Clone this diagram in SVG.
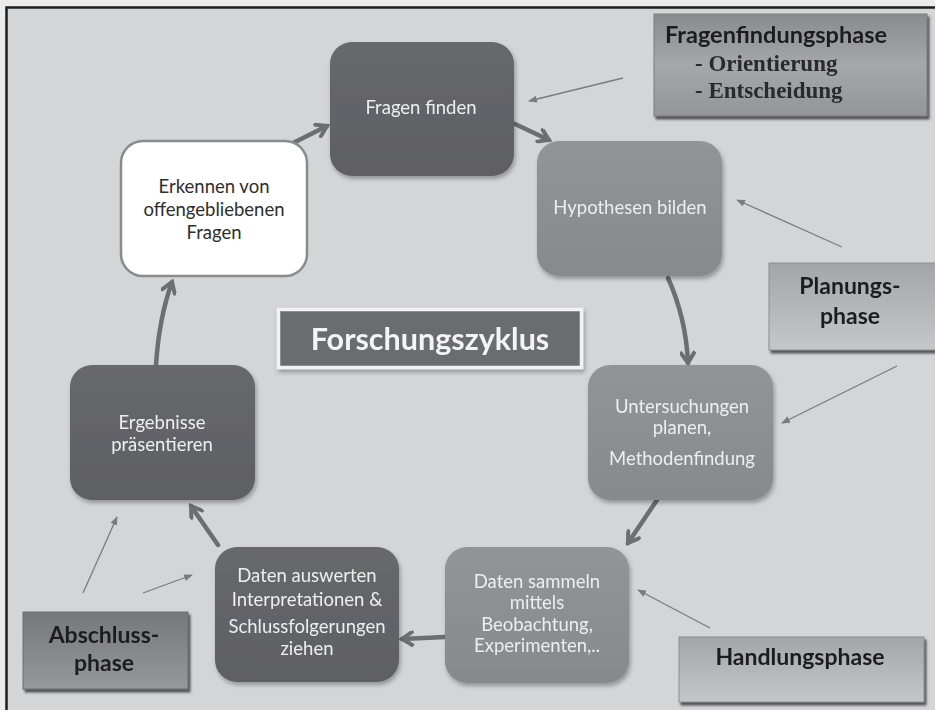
<svg xmlns="http://www.w3.org/2000/svg" width="935" height="710" viewBox="0 0 935 710">
  <defs>
    <style>
      .node-label { font-family: Lato, "Open Sans", "Liberation Sans", sans-serif; font-size: 18.5px; text-anchor: middle; }
      .light { fill: #eeeeee; }
      .dark { fill: #2e2e2e; }
      .phase-label { font-family: Lato, "Open Sans", "Liberation Sans", sans-serif; font-weight: bold; fill: #1e1e1e; text-anchor: middle; }
      .phase-head { font-family: Lato, "Open Sans", "Liberation Sans", sans-serif; font-weight: bold; fill: #1e1e1e; font-size: 23.5px; }
      .serif-label { font-family: "Liberation Serif", "DejaVu Serif", serif; font-weight: bold; fill: #2a2a2a; font-size: 23px; }
      .flow { fill: none; stroke: #6d6e72; stroke-width: 4.5; stroke-linecap: round; }
      .hint { fill: none; stroke: #7a7b7e; stroke-width: 1.3; }
    </style>
    <linearGradient id="gDark" x1="0" y1="0" x2="0" y2="1">
      <stop offset="0" stop-color="#67686c"/>
      <stop offset="1" stop-color="#5e5f63"/>
    </linearGradient>
    <linearGradient id="gMid" x1="0" y1="0" x2="0" y2="1">
      <stop offset="0" stop-color="#939498"/>
      <stop offset="1" stop-color="#88898d"/>
    </linearGradient>
    <linearGradient id="gPhaseDark" x1="0" y1="0" x2="0" y2="1">
      <stop offset="0" stop-color="#8a8b8e"/>
      <stop offset="0.5" stop-color="#a6a7aa"/>
      <stop offset="1" stop-color="#949598"/>
    </linearGradient>
    <linearGradient id="gPhaseLight" x1="0" y1="0" x2="0" y2="1">
      <stop offset="0" stop-color="#a4a5a8"/>
      <stop offset="1" stop-color="#c6c7c9"/>
    </linearGradient>
    <linearGradient id="gPhaseLow" x1="0" y1="0" x2="0" y2="1">
      <stop offset="0" stop-color="#76777b"/>
      <stop offset="1" stop-color="#97989b"/>
    </linearGradient>
    <filter id="soft" x="-10%" y="-10%" width="125%" height="130%">
      <feDropShadow dx="1.5" dy="3" stdDeviation="2" flood-color="#000" flood-opacity="0.3"/>
    </filter>
    <filter id="boxShadow" x="-5%" y="-5%" width="115%" height="120%">
      <feDropShadow dx="2" dy="3" stdDeviation="0.8" flood-color="#3c3d40" flood-opacity="0.85"/>
    </filter>
    <marker id="chevron" viewBox="0 0 16 16" refX="13" refY="8" markerWidth="16" markerHeight="16" markerUnits="userSpaceOnUse" orient="auto">
      <path d="M3,1.5 L13,8 L3,14.5" fill="none" stroke="#6d6e72" stroke-width="4" stroke-linecap="round" stroke-linejoin="miter"/>
    </marker>
    <marker id="tip" viewBox="0 0 10 8" refX="9" refY="4" markerWidth="9" markerHeight="7" markerUnits="userSpaceOnUse" orient="auto">
      <path d="M0,0 L10,4 L0,8 Z" fill="#7a7b7e"/>
    </marker>
  </defs>

  <!-- page and frame -->
  <rect x="0" y="0" width="935" height="710" fill="#ebebeb"/>
  <rect x="6" y="7" width="929" height="703" fill="#d4d5d7"/>
  <path d="M6.5,710 V7.5 H935" fill="none" stroke="#1e1e1e" stroke-width="2.5"/>

  <!-- connectors -->
  <g id="connectors">
    <path class="flow" d="M293,143 L327,126" marker-end="url(#chevron)"/>
    <path class="flow" d="M515,124 L549,140" marker-end="url(#chevron)"/>
    <path class="flow" d="M668,278 Q686,318 688,363" marker-end="url(#chevron)"/>
    <path class="flow" d="M657,500 L628,543" marker-end="url(#chevron)"/>
    <path class="flow" d="M445,637 L402,639" marker-end="url(#chevron)"/>
    <path class="flow" d="M218,545 L191,506" marker-end="url(#chevron)"/>
    <path class="flow" d="M156,365 Q159,318 172,282" marker-end="url(#chevron)"/>

    <path class="hint" d="M623,78 L529,101" marker-end="url(#tip)"/>
    <path class="hint" d="M842,247 L737,200" marker-end="url(#tip)"/>
    <path class="hint" d="M897,366 L782,423" marker-end="url(#tip)"/>
    <path class="hint" d="M710,628 L638,590" marker-end="url(#tip)"/>
    <path class="hint" d="M83,593 L117,517" marker-end="url(#tip)"/>
    <path class="hint" d="M143,593 L192,575" marker-end="url(#tip)"/>
  </g>

  <!-- cycle steps -->
  <g id="fragen-finden" filter="url(#soft)">
    <rect x="330" y="42" width="184" height="134" rx="22" fill="url(#gDark)"/>
    <text class="node-label light" x="421" y="114">Fragen finden</text>
  </g>

  <g id="hypothesen-bilden" filter="url(#soft)">
    <rect x="537" y="141" width="185" height="135" rx="22" fill="url(#gMid)"/>
    <text class="node-label light" x="630" y="214">Hypothesen bilden</text>
  </g>

  <g id="untersuchungen-planen" filter="url(#soft)">
    <rect x="588" y="365" width="185" height="135" rx="22" fill="url(#gMid)"/>
    <text class="node-label light" x="682" y="413">Untersuchungen</text>
    <text class="node-label light" x="682" y="434">planen,</text>
    <text class="node-label light" x="682" y="465">Methodenfindung</text>
  </g>

  <g id="daten-sammeln" filter="url(#soft)">
    <rect x="445" y="547" width="184" height="136" rx="22" fill="url(#gMid)"/>
    <text class="node-label light" x="537" y="588">Daten sammeln</text>
    <text class="node-label light" x="537" y="609">mittels</text>
    <text class="node-label light" x="537" y="631">Beobachtung,</text>
    <text class="node-label light" x="537" y="652">Experimenten,..</text>
  </g>

  <g id="daten-auswerten" filter="url(#soft)">
    <rect x="215" y="547" width="184" height="135" rx="22" fill="url(#gDark)"/>
    <text class="node-label light" x="307" y="582">Daten auswerten</text>
    <text class="node-label light" x="307" y="606">Interpretationen &amp;</text>
    <text class="node-label light" x="307" y="633">Schlussfolgerungen</text>
    <text class="node-label light" x="307" y="655">ziehen</text>
  </g>

  <g id="ergebnisse-praesentieren" filter="url(#soft)">
    <rect x="70" y="365" width="185" height="135" rx="22" fill="url(#gDark)"/>
    <text class="node-label light" x="162" y="429">Ergebnisse</text>
    <text class="node-label light" x="162" y="451">präsentieren</text>
  </g>

  <g id="offene-fragen">
    <rect x="121" y="141" width="186" height="135" rx="22" fill="#ffffff" stroke="#8a8b8e" stroke-width="2.5"/>
    <text class="node-label dark" x="214" y="193">Erkennen von</text>
    <text class="node-label dark" x="214" y="216">offengebliebenen</text>
    <text class="node-label dark" x="214" y="239">Fragen</text>
  </g>

  <!-- title -->
  <g id="forschungszyklus" filter="url(#soft)">
    <rect x="278.5" y="309.5" width="303" height="58" fill="#6b6c70" stroke="#f2f2f2" stroke-width="3.5"/>
    <text x="430" y="350" font-family="Lato, 'Open Sans', 'Liberation Sans', sans-serif" font-weight="bold" font-size="30.5" fill="#f4f4f4" text-anchor="middle">Forschungszyklus</text>
  </g>

  <!-- phase labels -->
  <g id="fragenfindungsphase" filter="url(#boxShadow)">
    <rect x="654" y="14" width="273" height="102" fill="url(#gPhaseDark)" stroke="#7c7d80" stroke-width="1"/>
    <text class="phase-head" x="665" y="43">Fragenfindungsphase</text>
    <text class="serif-label" x="695" y="71">- Orientierung</text>
    <text class="serif-label" x="695" y="98">- Entscheidung</text>
  </g>

  <g id="planungsphase" filter="url(#boxShadow)">
    <rect x="769" y="263" width="175" height="87" fill="url(#gPhaseLight)" stroke="#8c8d90" stroke-width="1"/>
    <text class="phase-label" x="850" y="294" font-size="23">Planungs-</text>
    <text class="phase-label" x="850" y="324" font-size="23">phase</text>
  </g>

  <g id="handlungsphase" filter="url(#boxShadow)">
    <rect x="679" y="637" width="245" height="65" fill="url(#gPhaseLight)" stroke="#8c8d90" stroke-width="1"/>
    <text class="phase-label" x="800" y="665" font-size="23">Handlungsphase</text>
  </g>

  <g id="abschlussphase" filter="url(#boxShadow)">
    <rect x="23" y="612" width="165" height="77" fill="url(#gPhaseLow)" stroke="#6e6f72" stroke-width="1"/>
    <text class="phase-label" x="104" y="643" font-size="23">Abschluss-</text>
    <text class="phase-label" x="104" y="671" font-size="23">phase</text>
  </g>
</svg>
